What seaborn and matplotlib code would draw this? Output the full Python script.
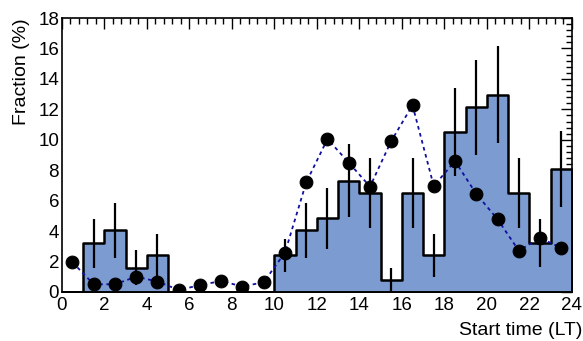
import numpy as np
import pandas as pd
import matplotlib
matplotlib.use("Agg")
import matplotlib.pyplot as plt
from matplotlib.ticker import MultipleLocator
import seaborn as sns

# histogram: fraction per start hour (LT)
hour_edges = list(range(0, 25))
hist_frac = [0.0, 3.2, 4.05, 1.6, 2.4, 0, 0, 0, 0, 0,
             2.4, 4.05, 4.84, 7.3, 6.48, 0.8, 6.48, 2.4,
             10.53, 12.13, 12.96, 6.48, 3.22, 8.08]
hist_err = [0.0, 1.6, 1.8, 1.15, 1.4, 0, 0, 0, 0, 0,
            1.1, 1.8, 2.0, 2.4, 2.3, 0.8, 2.3, 1.4,
            2.9, 3.1, 3.2, 2.3, 1.6, 2.5]
# reference curve (dots)
ref_frac = [1.95, 0.5, 0.5, 1.0, 0.68, 0.13, 0.44, 0.72, 0.35, 0.64,
            2.58, 7.2, 10.05, 8.5, 6.92, 9.92, 12.27, 6.96,
            8.6, 6.44, 4.78, 2.71, 3.55, 2.89]

centers = [h + 0.5 for h in hour_edges[:-1]]
df = pd.DataFrame({"hour": centers, "frac": hist_frac, "err": hist_err, "ref": ref_frac})

sns.set_style("white")
plt.rcParams["font.family"] = ["Liberation Sans", "DejaVu Sans"]
plt.rcParams["font.size"] = 13.5
plt.rcParams["text.color"] = "black"
plt.rcParams["axes.labelcolor"] = "black"
plt.rcParams["xtick.color"] = "black"
plt.rcParams["ytick.color"] = "black"

fig = plt.figure(figsize=(5.83, 3.41), dpi=100)
ax = fig.add_axes([0.106, 0.144, 0.875, 0.803])

sns.histplot(data=df, x="hour", weights="frac", bins=hour_edges, element="step",
             fill=True, color="#7b9bd1", alpha=1, edgecolor="black", linewidth=1.8, ax=ax)

# error bars (vertical only)
nz = df[df["err"] > 0]
ax.errorbar(nz["hour"], nz["frac"], yerr=nz["err"], fmt="none", ecolor="black",
            elinewidth=1.6, capsize=0, zorder=3)

sns.lineplot(data=df, x="hour", y="ref", color="#1010a0", linestyle=(0, (2, 2)),
             linewidth=1.3, ax=ax, zorder=4)
sns.scatterplot(data=df, x="hour", y="ref", color="black", s=85, edgecolor="black",
                ax=ax, zorder=5)

ax.set_xlim(0, 24)
ax.set_ylim(0, 18)
ax.xaxis.set_major_locator(MultipleLocator(2))
ax.xaxis.set_minor_locator(MultipleLocator(0.4))
ax.yaxis.set_major_locator(MultipleLocator(2))
ax.yaxis.set_minor_locator(MultipleLocator(0.4))
ax.tick_params(which="both", direction="in", top=True, right=True, color="black")
ax.tick_params(which="major", length=8, width=1)
ax.tick_params(which="minor", length=4, width=1)
ax.tick_params(axis="x", labelsize=13.5, pad=4, labelcolor="black")
ax.tick_params(axis="y", labelsize=13.5, pad=2, labelcolor="black")
for s in ax.spines.values():
    s.set_color("black")
    s.set_linewidth(1.2)

ax.set_xlabel("Start time (LT)", loc="right", fontsize=14, color="black")
ax.xaxis.set_label_coords(1.02, -0.11)
ax.set_ylabel("Fraction (%)", loc="top", fontsize=14, labelpad=6, color="black")

fig.savefig("out.png", dpi=100)
